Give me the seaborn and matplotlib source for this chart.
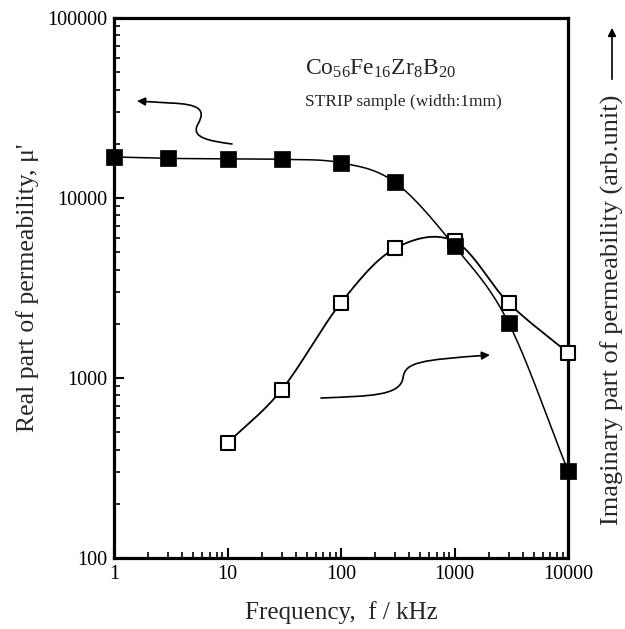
import numpy as np
import matplotlib
matplotlib.use("Agg")
import matplotlib.pyplot as plt
import matplotlib.ticker as mticker
from matplotlib.path import Path
from matplotlib.patches import FancyArrowPatch
import seaborn as sns
import pandas as pd

# data (frequency in kHz, permeability)
freq_real = [1, 3, 10, 30, 100, 300, 1000, 3000, 10000]
mu_real = [16900, 16600, 16500, 16400, 15700, 12200, 5400, 2020, 305]
freq_imag = [10, 30, 100, 300, 1000, 3000, 10000]
mu_imag = [435, 860, 2620, 5250, 5750, 2610, 1380]

x_ticks = [1, 10, 100, 1000, 10000]
y_ticks = [100, 1000, 10000, 100000]

W, H = 625, 629


def smooth_log(x, y, n=25):
    """Catmull-Rom curve through the points, done in log-log space"""
    lx, ly = np.log10(x), np.log10(y)
    px = np.concatenate([[2 * lx[0] - lx[1]], lx, [2 * lx[-1] - lx[-2]]])
    py = np.concatenate([[2 * ly[0] - ly[1]], ly, [2 * ly[-1] - ly[-2]]])
    xs, ys = [], []
    t = np.linspace(0, 1, n)
    for i in range(1, len(px) - 2):
        for arr, out in ((px, xs), (py, ys)):
            p0, p1, p2, p3 = arr[i - 1], arr[i], arr[i + 1], arr[i + 2]
            out.extend(0.5 * (2 * p1 + (-p0 + p2) * t
                              + (2 * p0 - 5 * p1 + 4 * p2 - p3) * t ** 2
                              + (-p0 + 3 * p1 - 3 * p2 + p3) * t ** 3))
    return 10 ** np.array(xs), 10 ** np.array(ys)


def fig_xy(px, py):
    return (px / W, 1 - py / H)


sns.set_style("ticks")
plt.rcParams["font.family"] = ["Liberation Serif", "DejaVu Serif"]
plt.rcParams["mathtext.fontset"] = "custom"
plt.rcParams["mathtext.rm"] = "Liberation Serif"
plt.rcParams["mathtext.it"] = "Liberation Serif:italic"

fig = plt.figure(figsize=(W / 100, H / 100), dpi=100)
ax = fig.add_axes([114 / W, 1 - 558 / H, (568 - 114) / W, (558 - 18) / H])

df_real = pd.DataFrame({"f": freq_real, "mu": mu_real})
df_imag = pd.DataFrame({"f": freq_imag, "mu": mu_imag})

# smooth connecting curves
sx, sy = smooth_log(freq_real, mu_real)
ax.plot(sx, sy, color="black", lw=1.1, zorder=2)
sx, sy = smooth_log(freq_imag, mu_imag)
ax.plot(sx, sy, color="black", lw=1.3, zorder=2)

sns.scatterplot(data=df_imag, x="f", y="mu", marker="s", s=110, facecolor="white",
                edgecolor="black", linewidth=1.5, zorder=5, clip_on=False, ax=ax)
sns.scatterplot(data=df_real, x="f", y="mu", marker="s", s=120, color="black",
                edgecolor="black", linewidth=0.5, zorder=6, clip_on=False, ax=ax)

ax.set_xscale("log")
ax.set_yscale("log")
ax.set_xlim(1, 10000)
ax.set_ylim(100, 100000)
ax.set_xticks(x_ticks)
ax.set_yticks(y_ticks)
ax.xaxis.set_major_formatter(mticker.FuncFormatter(lambda v, p: "%d" % v))
ax.yaxis.set_major_formatter(mticker.FuncFormatter(lambda v, p: "%d" % v))
ax.xaxis.set_minor_locator(mticker.LogLocator(base=10, subs=np.arange(2, 10)))
ax.yaxis.set_minor_locator(mticker.LogLocator(base=10, subs=np.arange(2, 10)))
ax.xaxis.set_minor_formatter(mticker.NullFormatter())
ax.yaxis.set_minor_formatter(mticker.NullFormatter())
ax.tick_params(which="both", direction="in", top=False, right=False, colors="black")
ax.tick_params(which="major", length=7, width=1.5, labelsize=14.5, pad=5)
ax.tick_params(which="minor", length=4, width=1.2)
for sp in ax.spines.values():
    sp.set_linewidth(2.3)
    sp.set_color("black")

ax.set_xlabel("Frequency,  f / kHz", fontsize=18, labelpad=12)
ax.set_ylabel("Real part of permeability, μ'", fontsize=18.5, labelpad=6)

ax.text(0.42, 0.905, r"$\mathrm{Co_{56}Fe_{16}Zr_{8}B_{20}}$", transform=ax.transAxes,
        fontsize=17, ha="left", va="center")
ax.text(0.42, 0.845, "STRIP sample (width:1mm)", transform=ax.transAxes,
        fontsize=12.5, ha="left", va="center")

# right side label with arrow
fig.text(612 / W, 1 - 310 / H, "Imaginary part of permeability (arb.unit)", rotation=90,
         fontsize=19, ha="center", va="center")
fig.patches.append(FancyArrowPatch(fig_xy(612, 82), fig_xy(612, 25), arrowstyle="-|>",
                                   mutation_scale=12, lw=1.2, color="black",
                                   transform=fig.transFigure))

# curly arrows pointing to each axis
up_path = Path([fig_xy(232, 144), fig_xy(210, 141), fig_xy(190, 138), fig_xy(198, 124),
                fig_xy(206, 110), fig_xy(200, 104), fig_xy(170, 103), fig_xy(137, 101)],
               [Path.MOVETO, Path.CURVE4, Path.CURVE4, Path.CURVE4,
                Path.CURVE4, Path.CURVE4, Path.CURVE4, Path.LINETO])
low_path = Path([fig_xy(321, 398), fig_xy(370, 396), fig_xy(400, 396), fig_xy(403, 378),
                 fig_xy(405, 362), fig_xy(420, 360), fig_xy(490, 355)],
                [Path.MOVETO, Path.CURVE4, Path.CURVE4, Path.CURVE4,
                 Path.CURVE4, Path.CURVE4, Path.CURVE4])
for pth in (up_path, low_path):
    fig.patches.append(FancyArrowPatch(path=pth, arrowstyle="-|>", mutation_scale=12,
                                       lw=1.2, color="black", transform=fig.transFigure))

fig.savefig("out.png", dpi=100)
plt.close()
